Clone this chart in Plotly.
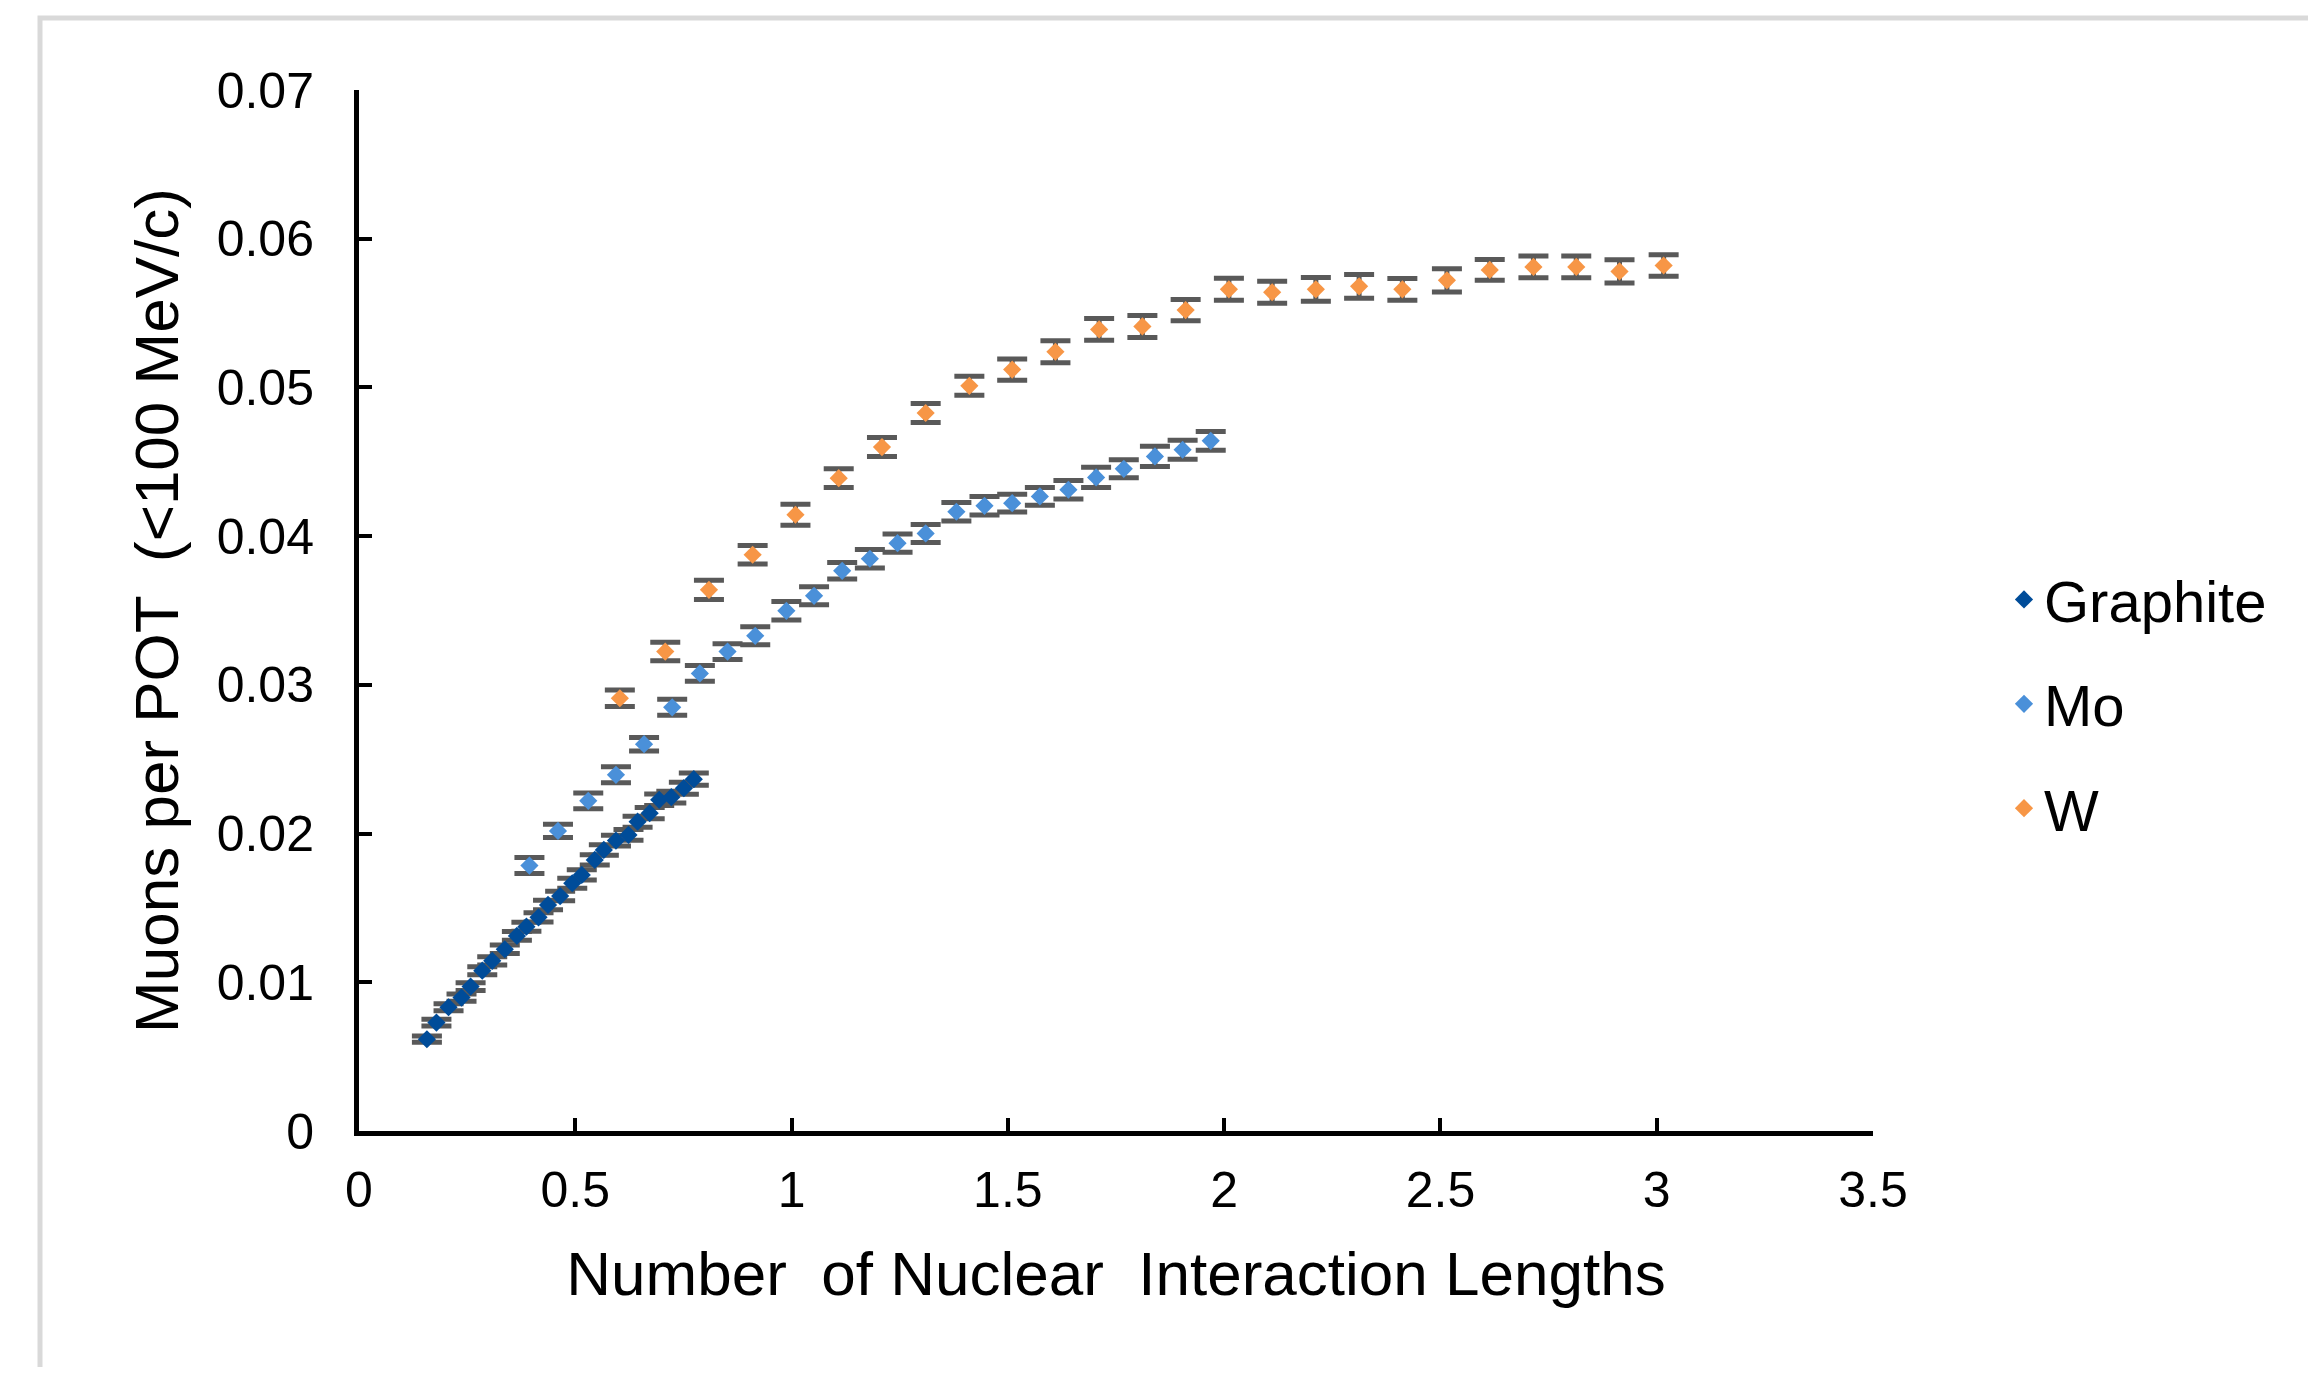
import plotly.graph_objects as go

# ---- data ----
graphite_x = [0.157, 0.179, 0.207, 0.237, 0.258, 0.285, 0.308, 0.337, 0.365, 0.387,
              0.415, 0.437, 0.465, 0.493, 0.515, 0.545, 0.566, 0.594, 0.623, 0.644,
              0.672, 0.694, 0.722, 0.751, 0.774]
graphite_y = [0.00617, 0.00729, 0.00832, 0.00897, 0.00971, 0.01078, 0.01144, 0.01222, 0.01312, 0.01374,
              0.01437, 0.01520, 0.01580, 0.01666, 0.01722, 0.01823, 0.01890, 0.01953, 0.01991, 0.02080,
              0.02137, 0.02227, 0.02245, 0.02305, 0.02366]
graphite_err = [0.00021, 0.00023, 0.00024, 0.00025, 0.00026, 0.00027, 0.00028, 0.00029, 0.00030, 0.00030,
                0.00031, 0.00032, 0.00032, 0.00033, 0.00034, 0.00035, 0.00035, 0.00036, 0.00036, 0.00037,
                0.00038, 0.00039, 0.00039, 0.00040, 0.00041]

mo_x = [0.394, 0.460, 0.530, 0.594, 0.659, 0.724, 0.788, 0.852, 0.916, 0.988,
        1.052, 1.117, 1.181, 1.245, 1.310, 1.381, 1.446, 1.510, 1.574, 1.640,
        1.704, 1.768, 1.840, 1.904, 1.969]
mo_y = [0.01785, 0.02018, 0.02220, 0.02395, 0.02601, 0.02849, 0.03077, 0.03224, 0.03330, 0.03498,
        0.03599, 0.03767, 0.03848, 0.03953, 0.04018, 0.04164, 0.04204, 0.04222, 0.04267, 0.04312,
        0.04395, 0.04453, 0.04536, 0.04581, 0.04641]
mo_err = [0.00054, 0.00045, 0.00053, 0.00054, 0.00045, 0.00054, 0.00053, 0.00053, 0.00060, 0.00062,
          0.00060, 0.00055, 0.00062, 0.00062, 0.00060, 0.00062, 0.00062, 0.00060, 0.00060, 0.00063,
          0.00068, 0.00060, 0.00068, 0.00064, 0.00063]

w_x = [0.603, 0.708, 0.809, 0.910, 1.009, 1.109, 1.209, 1.310, 1.411, 1.510,
       1.610, 1.711, 1.811, 1.911, 2.011, 2.111, 2.212, 2.312, 2.412, 2.515,
       2.614, 2.715, 2.814, 2.914, 3.016]
w_y = [0.02910, 0.03224, 0.03639, 0.03875, 0.04144, 0.04390, 0.04599, 0.04828, 0.05011, 0.05120,
       0.05240, 0.05390, 0.05410, 0.05520, 0.05660, 0.05640, 0.05660, 0.05680, 0.05660, 0.05720,
       0.05790, 0.05810, 0.05810, 0.05780, 0.05820]
w_err = [0.00055, 0.00062, 0.00065, 0.00062, 0.00070, 0.00063, 0.00064, 0.00064, 0.00064, 0.00072,
         0.00074, 0.00073, 0.00074, 0.00072, 0.00074, 0.00074, 0.00080, 0.00080, 0.00073, 0.00078,
         0.00070, 0.00073, 0.00073, 0.00078, 0.00073]

x_ticks = [0, 0.5, 1, 1.5, 2, 2.5, 3, 3.5]
y_ticks = [0, 0.01, 0.02, 0.03, 0.04, 0.05, 0.06, 0.07]

FONT = "Arial, Liberation Sans, sans-serif"
ERR_COLOR = "#595959"

series = [
    ("Graphite", graphite_x, graphite_y, graphite_err, "#004C99"),
    ("Mo", mo_x, mo_y, mo_err, "#4A90D9"),
    ("W", w_x, w_y, w_err, "#F79646"),
]

fig = go.Figure()
for name, xs, ys, es, col in series:
    fig.add_trace(go.Scatter(
        x=xs, y=ys, name=name, mode="markers", legendgroup=name,
        marker=dict(symbol="diamond", size=14, color=col, line=dict(width=0)),
        error_y=dict(type="data", array=es, visible=True, color=ERR_COLOR,
                     thickness=5, width=15),
    ))

# page has an 8px body margin; figure sized to fit in the window
OFF = 8
W, H = 2316 - 2 * OFF, 1375 - 2 * OFF
L, T = 359 - OFF, 90 - OFF
R = W - (1873 - OFF)
B = H - (1131 - OFF)
pw, ph = W - L - R, H - T - B

def px2paper_x(p):  # p in page pixels
    return (p - OFF - L) / pw

def px2paper_y(p):  # p in page pixels
    return (H - B - (p - OFF)) / ph

fig.update_layout(
    width=W, height=H,
    margin=dict(l=L, r=R, t=T, b=B),
    paper_bgcolor="white", plot_bgcolor="white",
    font=dict(family=FONT, color="black"),
    showlegend=True,
    legend=dict(x=px2paper_x(2004), xanchor="left", y=0.41, yanchor="middle",
                font=dict(size=58, family=FONT, color="black"),
                tracegroupgap=26, bgcolor="rgba(0,0,0,0)"),
    xaxis=dict(range=[0, 3.5], tickvals=x_ticks, ticktext=[f"{v:g}" for v in x_ticks],
               showgrid=False, zeroline=False, showline=True, linecolor="black", linewidth=5,
               ticks="inside", ticklen=13, tickwidth=4, tickcolor="black",
               tickfont=dict(size=50, family=FONT, color="black"),
               ticklabelstandoff=11,
               title=dict(text="Number  of Nuclear  Interaction Lengths",
                          font=dict(size=62, family=FONT, color="black"), standoff=36)),
    yaxis=dict(range=[0, 0.07], tickvals=y_ticks, ticktext=[f"{v:g}" for v in y_ticks],
               showgrid=False, zeroline=False, showline=True, linecolor="black", linewidth=5,
               ticks="inside", ticklen=13, tickwidth=4, tickcolor="black",
               tickfont=dict(size=50, family=FONT, color="black"),
               ticklabelstandoff=30,
               title=dict(text="Muons per POT  (<100 MeV/c)",
                          font=dict(size=62, family=FONT, color="black"), standoff=19)),
    shapes=[dict(type="rect", xref="paper", yref="paper",
                 x0=px2paper_x(40), x1=px2paper_x(2340),
                 y0=px2paper_y(1400), y1=px2paper_y(18),
                 line=dict(color="#D9D9D9", width=5), fillcolor="rgba(0,0,0,0)", layer="below")],
)

fig.write_html("out.html")
